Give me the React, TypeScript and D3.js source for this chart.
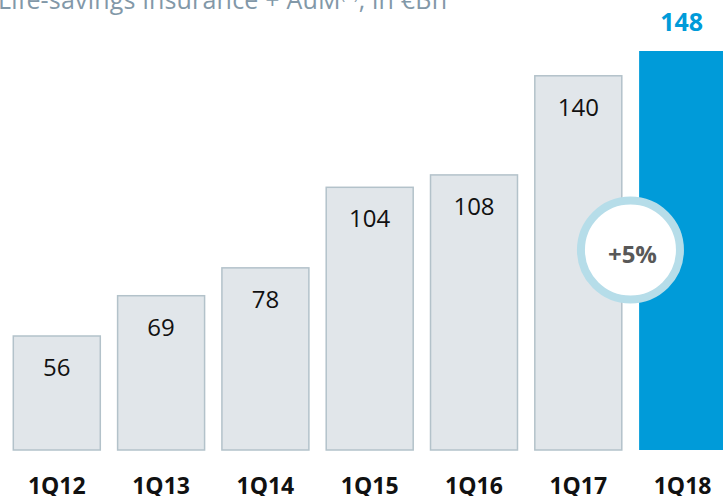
import React from "react";
import * as d3 from "d3";

const categories = ["1Q12", "1Q13", "1Q14", "1Q15", "1Q16", "1Q17", "1Q18"];
const values = [56, 69, 78, 104, 108, 140, 148];
const growthLabel = "+5%";
const titleMain = "Life-savings insurance + AuM";
const titleSup = "(1)";
const titleEnd = ", in €Bn";

const W = 723;
const H = 496;
const FONT = "'Open Sans', 'Noto Sans', sans-serif";

export default function App() {
  const x = d3
    .scaleBand<string>()
    .domain(categories)
    .range([13.3, 726.1])
    .paddingInner(0.166)
    .paddingOuter(0);
  const y = d3.scaleLinear().domain([19.2, 148]).range([450, 51]);
  const last = categories.length - 1;
  const bw = x.bandwidth();

  const cx = (x(categories[last - 1])! + bw + x(categories[last])!) / 2;
  const cy = 250;

  return (
    <svg
      width={W}
      height={H}
      style={{ position: "absolute", left: 0, top: 0, display: "block" }}
      fontFamily={FONT}
    >
      <rect width={W} height={H} fill="#ffffff" />
      <text
        x={-2}
        y={9}
        fontSize={25}
        fill="#8298a8"
        textLength={449}
        lengthAdjust="spacing"
      >
        {titleMain}
        <tspan fontSize={15} dy={-10}>{titleSup}</tspan>
        <tspan dy={10}>{titleEnd}</tspan>
      </text>
      {categories.map((c, i) => {
        const v = values[i];
        const isLast = i === last;
        const x0 = x(c)!;
        const yt = y(v);
        return (
          <g key={c}>
            <rect
              x={x0}
              y={yt}
              width={bw}
              height={450 - yt}
              fill={isLast ? "#009bd9" : "#e1e6ea"}
              stroke={isLast ? "none" : "#b3c2ca"}
              strokeWidth={1.5}
            />
            {isLast ? (
              <text
                x={x0 + bw / 2 - 1}
                y={yt - 20}
                textAnchor="middle"
                fontSize={25}
                fontWeight={700}
                fill="#009bd9"
              >
                {v}
              </text>
            ) : (
              <text
                x={x0 + bw / 2}
                y={yt + 40}
                textAnchor="middle"
                fontSize={24}
                fill="#111111"
              >
                {v}
              </text>
            )}
            <text
              x={x0 + bw / 2}
              y={494}
              textAnchor="middle"
              fontSize={23}
              fontWeight={700}
              fill="#111111"
            >
              {c}
            </text>
          </g>
        );
      })}
      <circle cx={cx} cy={cy} r={49.5} fill="#ffffff" stroke="#b6dde9" strokeWidth={8} />
      <text
        x={cx + 2}
        y={cy + 13}
        textAnchor="middle"
        fontSize={24}
        fontWeight={700}
        fill="#585858"
      >
        {growthLabel}
      </text>
    </svg>
  );
}
